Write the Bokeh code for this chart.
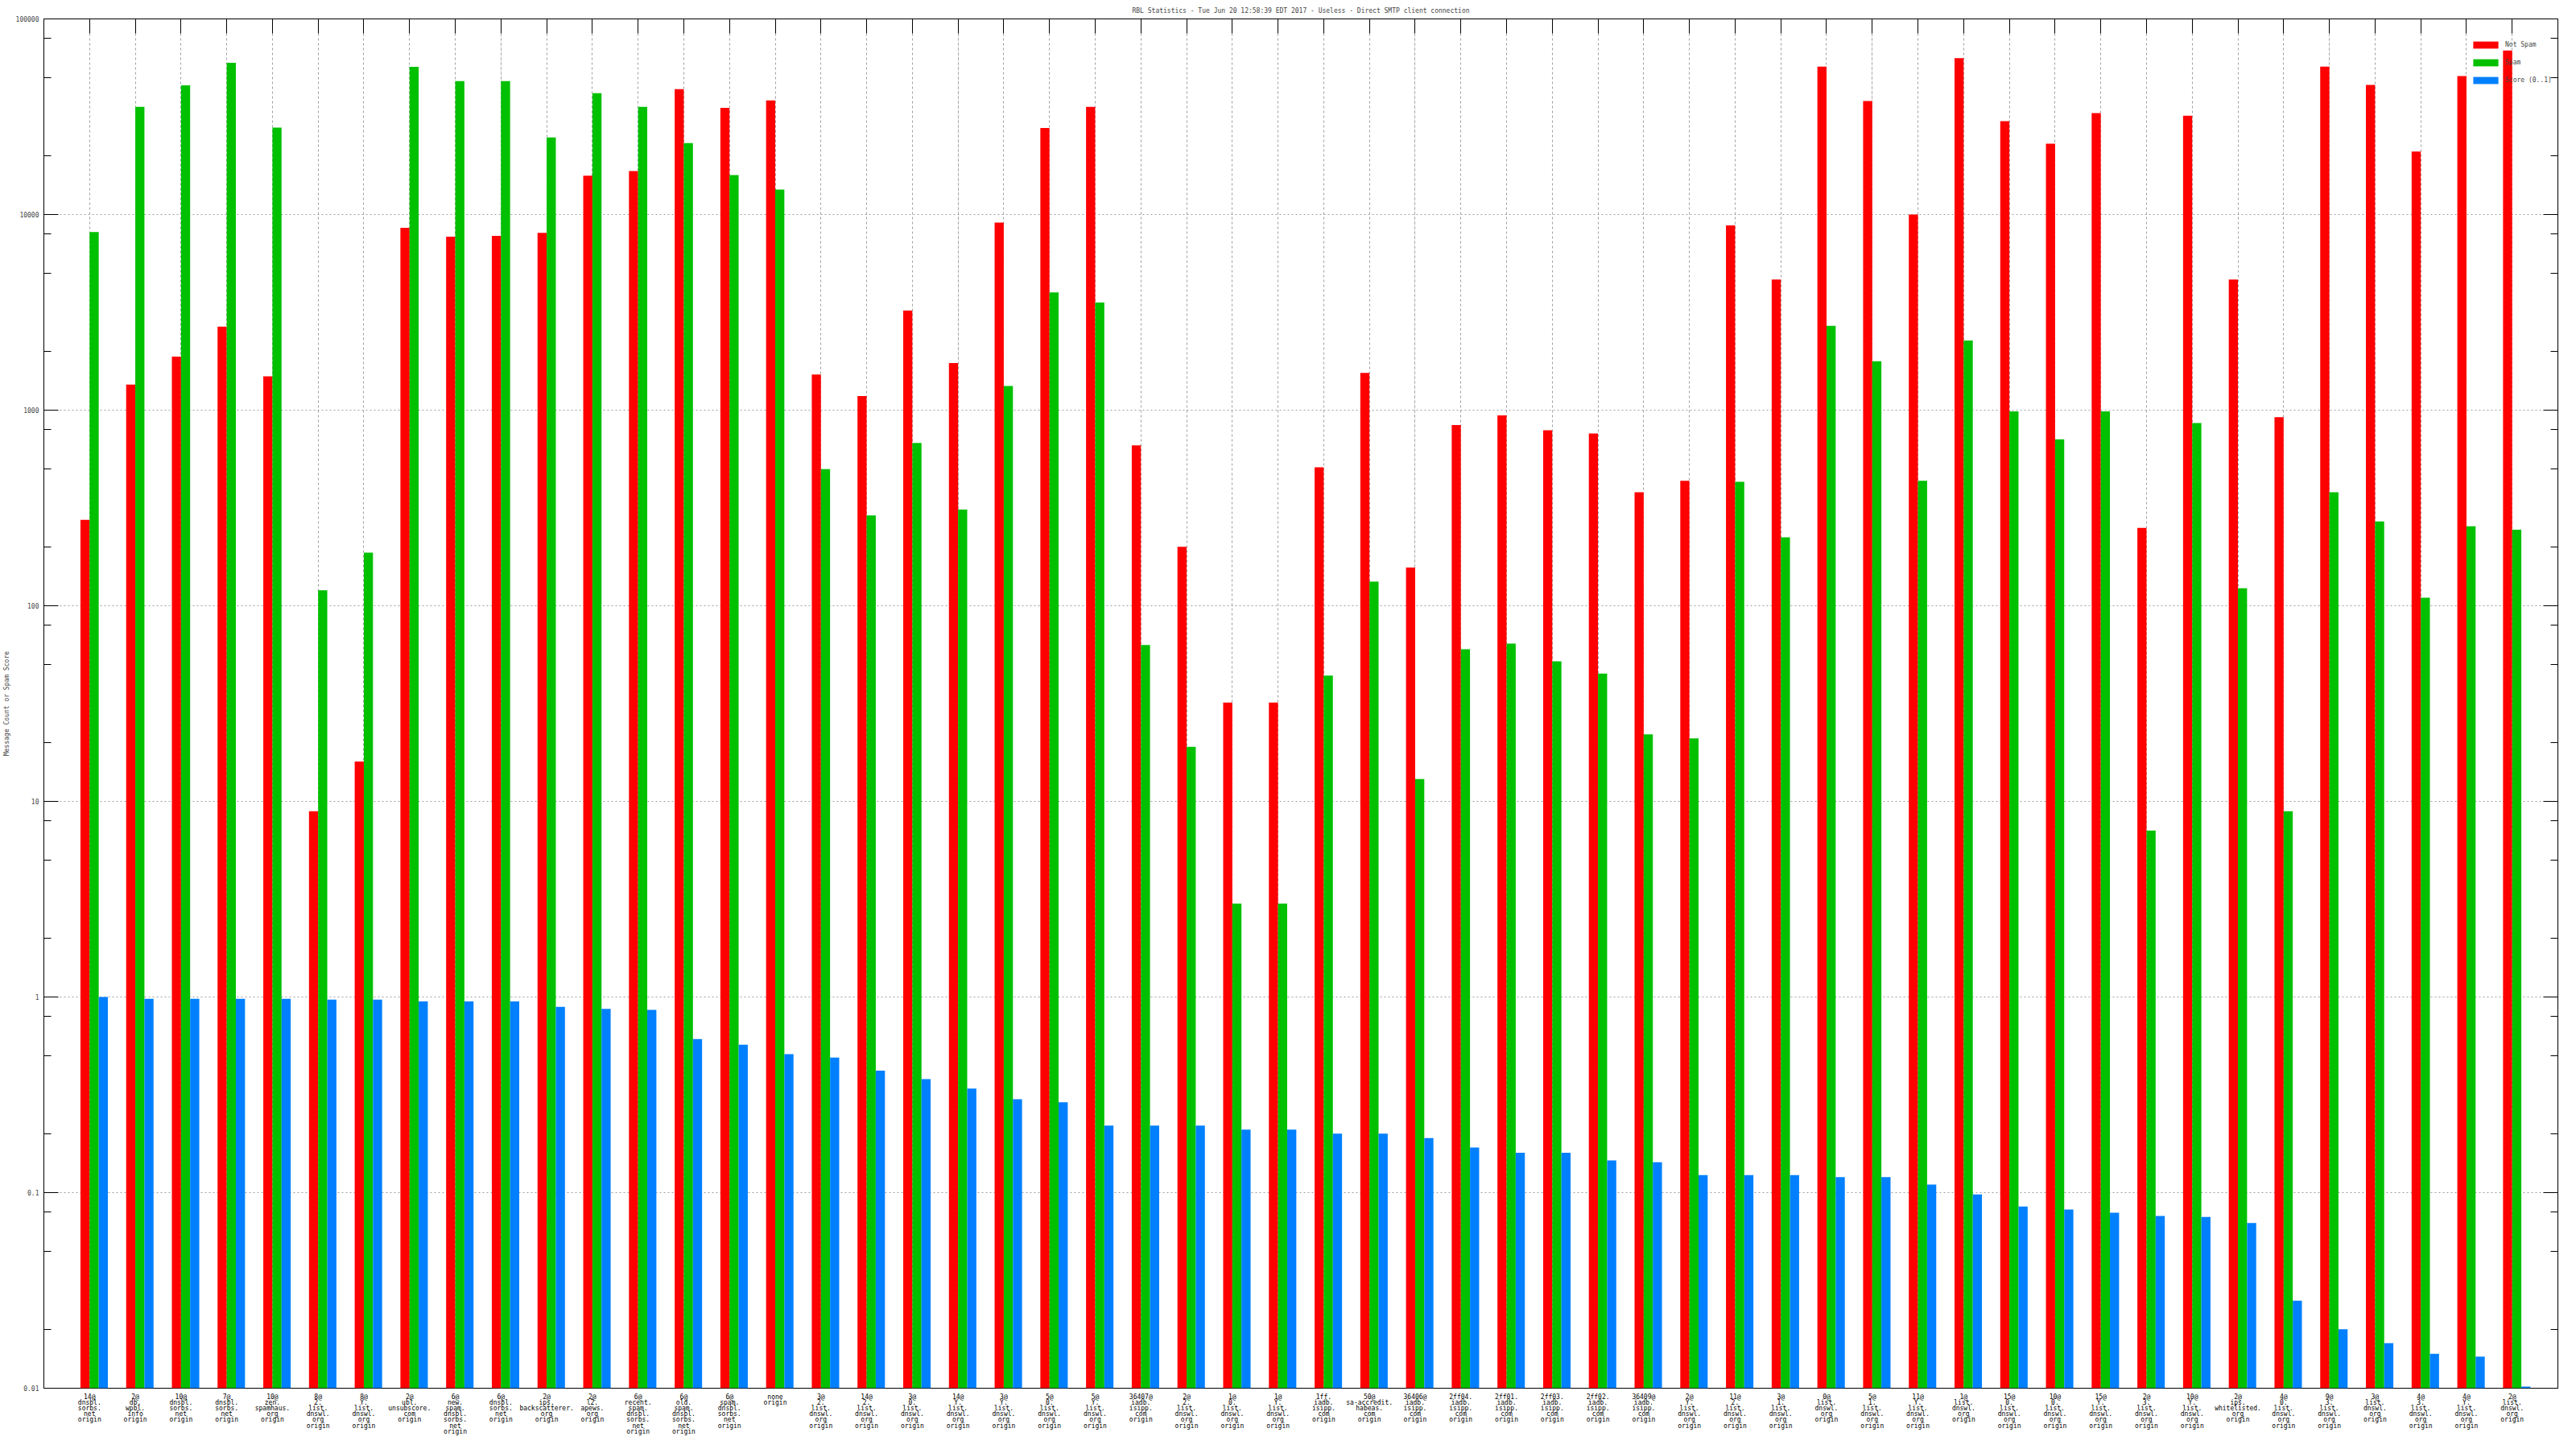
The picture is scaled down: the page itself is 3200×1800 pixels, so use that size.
from bokeh.plotting import figure
from bokeh.models import (ColumnDataSource, FixedTicker, LinearAxis, LogAxis, Range1d,
                          Legend, LegendItem, Grid)
from bokeh.layouts import column
from bokeh.core.properties import value
from bokeh.transform import dodge
from bokeh.embed import file_html
from bokeh.resources import INLINE

title_text = "RBL Statistics - Tue Jun 20 12:58:39 EDT 2017 - Useless - Direct SMTP client connection"
y_label = "Message Count or Spam Score"
series_names = ["Not Spam", "Spam", "Score (0..1)"]
colors = ["#ff0000", "#00c000", "#0080ff"]

hosts = [
    "14@dnsbl.sorbs.net", "2@db.wpbl.info", "10@dnsbl.sorbs.net", "7@dnsbl.sorbs.net",
    "10@zen.spamhaus.org", "8@2.list.dnswl.org", "8@Y.list.dnswl.org", "2@ubl.unsubscore.com",
    "6@new.spam.dnsbl.sorbs.net", "6@dnsbl.sorbs.net", "2@ips.backscatterer.org", "2@l2.apews.org",
    "6@recent.spam.dnsbl.sorbs.net", "6@old.spam.dnsbl.sorbs.net", "6@spam.dnsbl.sorbs.net", "none",
    "3@2.list.dnswl.org", "14@2.list.dnswl.org", "3@0.list.dnswl.org", "14@Y.list.dnswl.org",
    "3@Y.list.dnswl.org", "5@0.list.dnswl.org", "5@Y.list.dnswl.org", "36407@iadb.isipp.com",
    "2@2.list.dnswl.org", "1@0.list.dnswl.org", "1@Y.list.dnswl.org", "1ff.iadb.isipp.com",
    "50@sa-accredit.habeas.com", "36406@iadb.isipp.com", "2ff04.iadb.isipp.com", "2ff01.iadb.isipp.com",
    "2ff03.iadb.isipp.com", "2ff02.iadb.isipp.com", "36409@iadb.isipp.com", "2@Y.list.dnswl.org",
    "11@2.list.dnswl.org", "3@1.list.dnswl.org", "0@list.dnswl.org", "5@1.list.dnswl.org",
    "11@Y.list.dnswl.org", "1@list.dnswl.org", "15@0.list.dnswl.org", "10@0.list.dnswl.org",
    "15@Y.list.dnswl.org", "2@3.list.dnswl.org", "10@Y.list.dnswl.org", "2@ips.whitelisted.org",
    "4@0.list.dnswl.org", "9@3.list.dnswl.org", "3@list.dnswl.org", "4@3.list.dnswl.org",
    "4@Y.list.dnswl.org", "2@list.dnswl.org",
]

not_spam = [275, 1350, 1880, 2670, 1490, 8.9, 16, 8550, 7700, 7780,
            8070, 15800, 16700, 43700, 35100, 38300, 1520, 1180, 3230, 1740,
            9100, 27700, 35500, 660, 200, 32, 32, 510, 1550, 157,
            840, 940, 790, 760, 380, 435, 8800, 4650, 57000, 38000,
            10000, 63000, 30000, 23000, 33000, 250, 32000, 4650, 920, 57000,
            46000, 21000, 51000, 69000]

spam = [8130, 35500, 45800, 59700, 27800, 120, 187, 56900, 48100, 48100,
        24800, 41700, 35500, 23200, 15900, 13400, 500, 290, 680, 310,
        1330, 4000, 3550, 63, 19, 3.0, 3.0, 44, 133, 13,
        60, 64, 52, 45, 22, 21, 430, 224, 2700, 1780,
        435, 2270, 985, 710, 985, 7.1, 860, 123, 8.9, 380,
        270, 110, 255, 245]

score = [1.0, 0.98, 0.98, 0.98, 0.98, 0.97, 0.97, 0.95, 0.95, 0.95,
         0.89, 0.87, 0.86, 0.61, 0.57, 0.51, 0.49, 0.42, 0.38, 0.34,
         0.30, 0.29, 0.22, 0.22, 0.22, 0.21, 0.21, 0.20, 0.20, 0.19,
         0.17, 0.16, 0.16, 0.146, 0.143, 0.123, 0.123, 0.123, 0.12, 0.12,
         0.11, 0.098, 0.085, 0.082, 0.079, 0.076, 0.075, 0.07, 0.028, 0.020,
         0.017, 0.015, 0.0145, 0.0102]

y_ticks = [0.01, 0.1, 1, 10, 100, 1000, 10000, 100000]
y_tick_labels = ["0.01", "0.1", "1", "10", "100", "1000", "10000", "100000"]

FONT = "DejaVu Sans Mono"
FS = "8px"

xs = list(range(1, len(hosts) + 1))
x_label_text = [h.replace("@", "@\n").replace(".", ".\n") + "\norigin" for h in hosts]
y_minor = [d * m for d in y_ticks[:-1] for m in (2, 5, 8)]

src = ColumnDataSource(dict(x=xs, ns=not_spam, sp=spam, sc=score, lab=x_label_text))

W = 3184
LEFT, RIGHT = 48, 7
MAIN_H = 1730
MAIN_BOTTOM = 6
LAB_H = 54

p = figure(width=W, height=MAIN_H, y_axis_type="log", x_axis_location=None,
           x_range=Range1d(0, len(hosts) + 1), y_range=Range1d(y_ticks[0], y_ticks[-1]),
           output_backend="svg", toolbar_location=None,
           min_border_left=LEFT, min_border_right=RIGHT, min_border_top=16,
           min_border_bottom=MAIN_BOTTOM)

p.outline_line_color = "black"
p.outline_line_width = 1

r1 = p.vbar(x=dodge("x", -0.1), top="ns", bottom=y_ticks[0], width=0.2, source=src,
            fill_color=colors[0], line_color=None)
r2 = p.vbar(x=dodge("x", 0.1), top="sp", bottom=y_ticks[0], width=0.2, source=src,
            fill_color=colors[1], line_color=None)
r3 = p.vbar(x=dodge("x", 0.3), top="sc", bottom=y_ticks[0], width=0.2, source=src,
            fill_color=colors[2], line_color=None)

# title
p.title.text = title_text
p.title.align = "center"
p.title.text_font = FONT
p.title.text_font_size = FS
p.title.text_font_style = "normal"
p.title.standoff = 12

xticker = FixedTicker(ticks=xs)
yticker = FixedTicker(ticks=y_ticks, minor_ticks=y_minor)

# left axis
ya = p.yaxis[0]
ya.ticker = yticker
ya.major_label_overrides = dict(zip(y_ticks, y_tick_labels))
ya.major_tick_in = 18
ya.major_tick_out = 0
ya.minor_tick_in = 9
ya.minor_tick_out = 0
ya.major_label_text_font = FONT
ya.major_label_text_font_size = FS
ya.major_label_standoff = 6
ya.axis_label = y_label
ya.axis_label_text_font = FONT
ya.axis_label_text_font_size = FS
ya.axis_label_text_font_style = "normal"
ya.axis_label_standoff = 4

# top mirror axis (ticks only)
ta = LinearAxis(ticker=xticker, major_tick_in=18, major_tick_out=0,
                minor_tick_in=0, minor_tick_out=0,
                major_label_overrides={i: "" for i in xs},
                major_label_text_font_size="1px", major_label_standoff=0)
p.add_layout(ta, "above")

# right mirror axis (ticks only)
ra = LogAxis(ticker=yticker, major_tick_in=18, major_tick_out=0,
             minor_tick_in=9, minor_tick_out=0,
             major_label_overrides={t: "" for t in y_ticks},
             major_label_text_font_size="1px", major_label_standoff=0)
p.add_layout(ra, "right")

# grids
p.add_layout(Grid(dimension=0, ticker=xticker, grid_line_color="#a0a0a0", grid_line_dash="3 3"))
p.ygrid.ticker = yticker
p.ygrid.grid_line_color = "#a0a0a0"
p.ygrid.grid_line_dash = "2 3"
p.ygrid.minor_grid_line_color = None

legend = Legend(items=[LegendItem(label=series_names[0], renderers=[r1]),
                       LegendItem(label=series_names[1], renderers=[r2]),
                       LegendItem(label=series_names[2], renderers=[r3])],
                location=(3014, 1619), margin=0, padding=0, spacing=11,
                glyph_width=39, glyph_height=11, label_height=11,
                label_text_font=FONT, label_text_font_size=FS,
                background_fill_alpha=0, border_line_alpha=0)
p.add_layout(legend)

# category labels strip under the plot, sharing the x range
q = figure(width=W, height=LAB_H, x_range=p.x_range, y_range=Range1d(0, 1),
           x_axis_location=None, y_axis_location=None,
           output_backend="svg", toolbar_location=None,
           min_border_left=LEFT, min_border_right=RIGHT, min_border_top=0, min_border_bottom=0)
q.outline_line_color = None
q.grid.visible = False
q.text(x="x", y=1, text="lab", source=src, y_offset=0,
       text_align="center", text_baseline="top",
       text_font=value(FONT), text_font_size=value(FS),
       text_line_height=0.8, text_color="black")

layout = column(p, q, spacing=0)
open("out.html", "w").write(file_html(layout, INLINE))
